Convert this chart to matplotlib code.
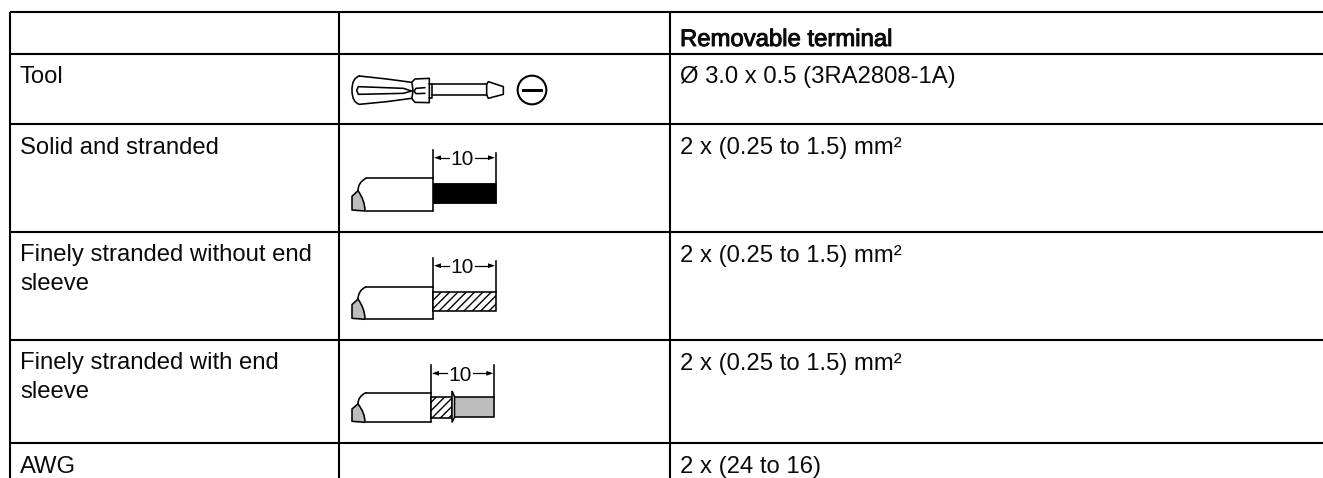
import matplotlib
matplotlib.use("Agg")
import matplotlib.pyplot as plt
from matplotlib.patches import Rectangle, Polygon, Circle, PathPatch
from matplotlib.path import Path
import matplotlib.patheffects as pe

W, H = 1323, 478
plt.rcParams['font.family'] = ['Liberation Sans', 'DejaVu Sans']
plt.rcParams['hatch.linewidth'] = 1.0

col_edges = [10, 339, 669.5]
row_edges = [12, 53.5, 124, 232, 340, 443]
col1_labels = ["", "Tool", "Solid and stranded", "Finely stranded without end\nsleeve",
               "Finely stranded with end\nsleeve", "AWG"]
col3_labels = ["Removable terminal", "Ø 3.0 x 0.5 (3RA2808-1A)", "2 x (0.25 to 1.5) mm²",
               "2 x (0.25 to 1.5) mm²", "2 x (0.25 to 1.5) mm²", "2 x (24 to 16)"]
dim_label = "10"

fig = plt.figure(figsize=(W/100, H/100), dpi=100)
ax = fig.add_axes([0, 0, 1, 1])
ax.set_xlim(0, W); ax.set_ylim(H, 0); ax.axis('off')

LW = 1.5
ILW = 1.15
FS = 17.2
LINE_PX = 28.7

for y in row_edges:
    ax.plot([col_edges[0], W], [y, y], color='k', lw=LW, solid_capstyle='butt')
for x in col_edges:
    ax.plot([x, x], [row_edges[0], H], color='k', lw=LW, solid_capstyle='butt')

for i, y in enumerate(row_edges):
    base = y + (34 if i == 0 else 29.7)
    ax.text(col_edges[0]+10, base + LINE_PX*col1_labels[i].count('\n'), col1_labels[i], fontsize=FS,
            va='baseline', ha='left', linespacing=1.41, color='#0a0a0a')
    t = ax.text(col_edges[2]+10.5, base, col3_labels[i], fontsize=FS, va='baseline', ha='left', linespacing=1.41, color='#0a0a0a')
    if i == 0:
        t.set_path_effects([pe.withStroke(linewidth=0.7, foreground='#0a0a0a')])


def curve(pts, codes=None, fc='none', lw=ILW, z=3, close=False):
    verts = list(pts)
    if codes is None:
        codes = [Path.MOVETO] + [Path.LINETO]*(len(verts)-1)
    if close:
        verts.append(verts[0]); codes = list(codes) + [Path.CLOSEPOLY]
    ax.add_patch(PathPatch(Path(verts, codes), fc=fc, ec='k', lw=lw, zorder=z, joinstyle='round', capstyle='round'))


def screwdriver(ox, oy):
    p = lambda x, y: (ox + x/3, oy + y/3)
    C3, L = Path.CURVE3, Path.LINETO
    curve([p(58, 33), p(35, 40), p(36, 76), p(36, 112), p(58, 118), p(140, 110), p(215, 100),
           p(225, 112), p(268, 113), p(268, 40), p(225, 42), p(215, 52), p(140, 42), p(58, 33)],
          [Path.MOVETO, C3, C3, C3, C3, L, L, L, L, L, L, L, L, L])
    curve([p(55, 65), p(190, 70), p(215, 78), p(190, 85), p(55, 88), p(50, 76)], close=True)
    curve([p(215, 52), p(222, 78), p(215, 100)], [Path.MOVETO, C3, C3])
    curve([p(255, 68), p(228, 70), p(222, 78), p(228, 86), p(255, 85)])
    curve([p(268, 56), p(275, 56), p(275, 98), p(268, 98)])
    curve([p(275, 58), p(440, 58)]); curve([p(275, 90), p(440, 90)])
    curve([p(440, 58), p(445, 50), p(490, 65), p(490, 88), p(445, 100), p(440, 90)], close=True)
    ax.add_patch(Circle(p(576, 75), 43/3, fc='none', ec='k', lw=1.5))
    ax.add_patch(Rectangle(p(545, 71), 63/3, 10/3, fc='k', ec='none'))


def end_cut(x0, top, bot):
    h = bot - top
    C3 = Path.CURVE3
    a = (x0, top + h*0.38)
    curve([a, (x0-6, top+h*0.55), (x0-6, top+h*0.75), (x0-6, bot-1), (x0+7, bot), (x0+7, top+h*0.68), a],
          [Path.MOVETO, Path.LINETO, C3, C3, Path.LINETO, C3, C3], fc='#bdbdbd')
    curve([a, (x0, top+h*0.12), (x0+8, top)], [Path.MOVETO, C3, C3])


def dims(xl, xr, ytl, ytr, yl, yb_l, yb_r):
    ax.plot([xl, xl], [ytl, yb_l], color='k', lw=ILW, zorder=4)
    ax.plot([xr, xr], [ytr, yb_r], color='k', lw=ILW, zorder=4)
    ax.add_patch(Polygon([(xl+1, yl), (xl+8, yl-2.4), (xl+8, yl+2.4)], fc='k', ec='none'))
    ax.add_patch(Polygon([(xr-1, yl), (xr-8, yl-2.4), (xr-8, yl+2.4)], fc='k', ec='none'))
    ax.plot([xl+8, xl+16], [yl, yl], color='k', lw=0.9)
    ax.plot([xr-8, xr-21], [yl, yl], color='k', lw=0.9)
    ax.text(xl+29.5, yl, dim_label, fontsize=15, ha='center', va='center_baseline', color='#0a0a0a')


def insulation(x0, xr, top, bot):
    end_cut(x0, top, bot)
    curve([(x0+8, top), (xr, top)])
    curve([(x0+8, bot), (xr, bot)])
    curve([(xr, top), (xr, bot)])


screwdriver(340, 65)

insulation(358, 433, 178.3, 211)
ax.add_patch(Rectangle((433, 183.3), 63, 19.4, fc='k', ec='k', lw=0.6, zorder=3))
dims(433, 496, 150, 152.7, 157.7, 178.3, 183.3)

insulation(358, 433, 286.7, 319.3)
ax.add_patch(Rectangle((433, 292.3), 63, 18.7, fc='white', ec='k', lw=ILW, hatch='////', zorder=3))
dims(433, 496, 258.3, 261, 265.7, 286.7, 292.3)

insulation(358, 431, 392.7, 422.3)
ax.add_patch(Rectangle((431, 396.7), 21, 21.6, fc='white', ec='k', lw=ILW, hatch='////', zorder=3))
ax.add_patch(Rectangle((453.3, 396.7), 41, 20.6, fc='#bdbdbd', ec='k', lw=ILW, zorder=3))
ax.add_patch(Polygon([(452, 391), (454.5, 396.7), (454.5, 417.3), (452, 422.3)], fc='white', ec='k', lw=ILW, zorder=4))
dims(431, 494.3, 365, 365, 373.3, 392.7, 396.7)

fig.savefig("out.png", dpi=100)
